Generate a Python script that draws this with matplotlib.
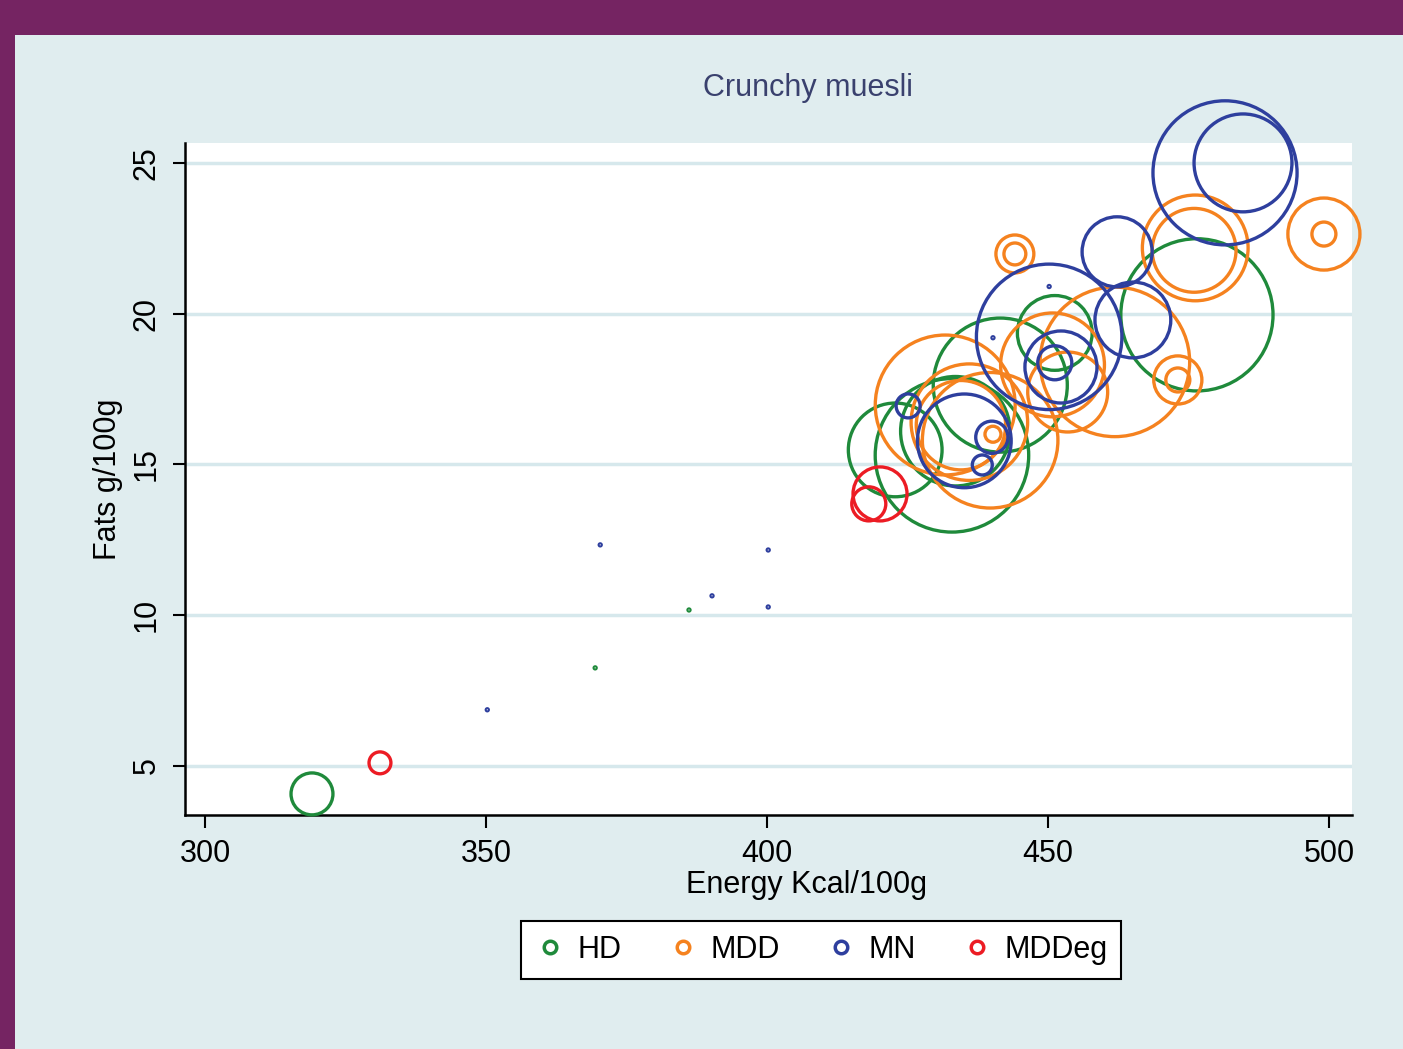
import matplotlib
matplotlib.use("Agg")
import matplotlib.pyplot as plt
from matplotlib.lines import Line2D
from matplotlib.patches import Rectangle

plt.rcParams['font.family'] = ['Liberation Sans', 'DejaVu Sans']

# Energy (kcal/100g), fats (g/100g) and bubble weight per group
hd_energy = [319.0, 369.4, 386.1, 422.8, 432.9, 433.5, 441.5, 451.2, 476.5]
hd_fats = [4.07, 8.25, 10.17, 15.48, 15.3, 16.1, 17.63, 19.36, 19.96]
hd_weight = [4.4, 0.01, 0.01, 22, 59, 30, 45, 14, 58]

mdd_energy = [476.2, 476.0, 499.1, 499.1, 473.1, 473.1, 444.1, 444.1, 461.9,
              431.7, 439.7, 436.0, 450.8, 453.5, 440.2, 434.5]
mdd_fats = [22.18, 22.1, 22.64, 22.64, 17.8, 17.8, 21.98, 21.98, 18.4,
            16.97, 15.8, 16.4, 18.3, 17.4, 16.0, 16.3]
mdd_weight = [28, 17.6, 13, 1.44, 5.8, 1.44, 3.6, 1.2, 56,
              49, 46, 34, 27, 16, 0.64, 20]

mn_energy = [350.2, 370.3, 390.2, 400.2, 400.2, 450.2, 440.2,
             481.5, 484.7, 462.3, 465.1, 450.2, 452.3, 451.2, 435.1, 425.1, 440.0, 438.3]
mn_fats = [6.86, 12.33, 10.64, 12.16, 10.27, 20.9, 19.2,
           24.67, 25.0, 22.05, 19.79, 19.23, 18.23, 18.37, 15.78, 16.94, 15.9, 14.98]
mn_weight = [0.01, 0.01, 0.01, 0.01, 0.01, 0.01, 0.01,
             52, 24, 12.3, 14.4, 53, 13, 2.9, 22, 1.44, 2.6, 1.0]

mddeg_energy = [331.1, 420.1, 418.1]
mddeg_fats = [5.1, 14.02, 13.69]
mddeg_weight = [1.2, 7.3, 2.9]

groups = ['HD', 'MDD', 'MN', 'MDDeg']
colors = ['#1f8a3b', '#f5821f', '#2e3f9e', '#ec1c24']

x_ticks = [300, 350, 400, 450, 500]
y_ticks = [5, 10, 15, 20, 25]

bg = '#e0edef'
fig = plt.figure(figsize=(14.03, 10.49), dpi=100, facecolor='#752462')
fig.patches.append(Rectangle((15 / 1403, 0), 1, 1 - 35 / 1049, transform=fig.transFigure,
                             facecolor=bg, edgecolor='none', zorder=-5))

ax = fig.add_axes([185 / 1403, 1 - 815 / 1049, (1352 - 185) / 1403, (815 - 143) / 1049])
ax.set_facecolor('white')

data = [(hd_energy, hd_fats, hd_weight),
        (mdd_energy, mdd_fats, mdd_weight),
        (mn_energy, mn_fats, mn_weight),
        (mddeg_energy, mddeg_fats, mddeg_weight)]

for (ex, fy, w), c in zip(data, colors):
    ax.scatter(ex, fy, s=[v * 207 for v in w], facecolors='none', edgecolors=c,
               linewidths=2.4, clip_on=False, zorder=3)

ax.set_xlim(296.4, 504.1)
ax.set_ylim(3.37, 25.66)
ax.set_xticks(x_ticks)
ax.set_yticks(y_ticks)
ax.grid(axis='y', color='#d6e8ec', linewidth=2.5, zorder=0)
ax.set_axisbelow(True)

for s in ['top', 'right']:
    ax.spines[s].set_visible(False)
for s in ['left', 'bottom']:
    ax.spines[s].set_linewidth(1.8)
    ax.spines[s].set_color('black')

ax.tick_params(axis='both', length=9, width=1.5, labelsize=22, colors='black')
ax.tick_params(axis='x', pad=8)
ax.tick_params(axis='y', pad=8)
for lbl in ax.get_yticklabels():
    lbl.set_rotation(90)
    lbl.set_va('center')

ax.set_xlabel('Energy Kcal/100g', fontsize=22)
ax.xaxis.set_label_coords((807 - 185) / (1352 - 185), -(885 - 815) / (815 - 143))
ax.xaxis.label.set_va('center')
ax.set_ylabel('Fats g/100g', fontsize=22, labelpad=6)

fig.text(808 / 1403, 1 - 88 / 1049, 'Crunchy muesli', fontsize=22, color='#3a416e',
         ha='center', va='center')

handles = [Line2D([], [], marker='o', linestyle='none', markerfacecolor='none',
                  markeredgecolor=c, markeredgewidth=2.5, markersize=9) for c in colors]
leg = fig.legend(handles, groups, loc='center', bbox_to_anchor=(821 / 1403, 1 - 950 / 1049),
                 ncol=4, fontsize=22, frameon=True, fancybox=False, handletextpad=0.4,
                 columnspacing=1.5, handlelength=1.0, borderpad=0.45, framealpha=1)
leg.get_frame().set_edgecolor('black')
leg.get_frame().set_linewidth(1.5)
leg.get_frame().set_facecolor('white')

fig.savefig('out.png', dpi=100, facecolor=fig.get_facecolor())
